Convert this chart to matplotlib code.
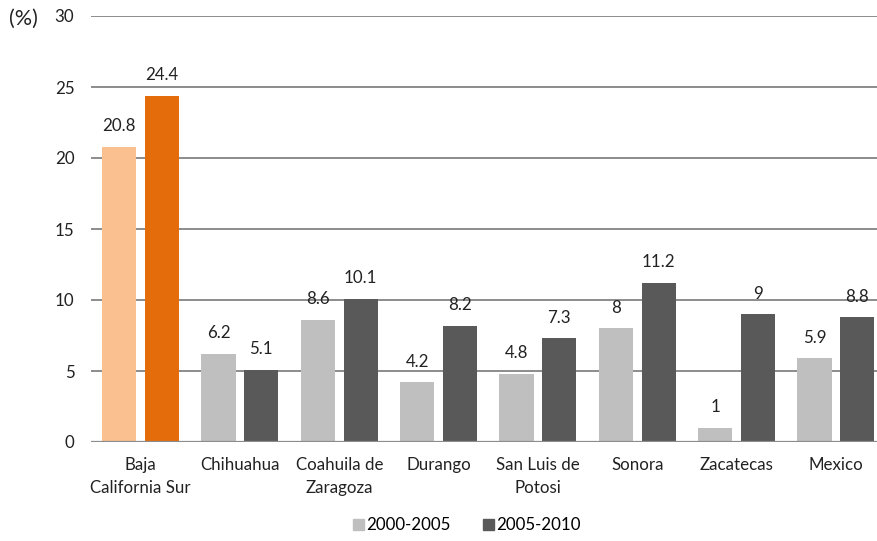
import matplotlib
matplotlib.use("Agg")
import matplotlib.pyplot as plt
from matplotlib.patches import Patch
import numpy as np

plt.rcParams['font.family'] = ['Lato', 'DejaVu Sans']

categories = ["Baja\nCalifornia Sur", "Chihuahua", "Coahuila de\nZaragoza", "Durango",
              "San Luis de\nPotosi", "Sonora", "Zacatecas", "Mexico"]
series_names = ["2000-2005", "2005-2010"]
values_2000_2005 = [20.8, 6.2, 8.6, 4.2, 4.8, 8, 1, 5.9]
values_2005_2010 = [24.4, 5.1, 10.1, 8.2, 7.3, 11.2, 9, 8.8]
labels_2000_2005 = ["20.8", "6.2", "8.6", "4.2", "4.8", "8", "1", "5.9"]
labels_2005_2010 = ["24.4", "5.1", "10.1", "8.2", "7.3", "11.2", "9", "8.8"]
yticks = [0, 5, 10, 15, 20, 25, 30]

light_grey = "#BFBFBF"
dark_grey = "#595959"
light_orange = "#FAC090"
orange = "#E46C0A"

FS = 12.2
W, H = 878, 541
fig = plt.figure(figsize=(W / 100, H / 100), dpi=100)
ax = fig.add_axes([91 / W, (H - 442) / H, 794.6 / W, 426 / H])

x = np.arange(len(categories))
bw = 0.345
off = 0.215
c1 = [light_orange] + [light_grey] * (len(categories) - 1)
c2 = [orange] + [dark_grey] * (len(categories) - 1)
b1 = ax.bar(x - off, values_2000_2005, bw, color=c1, zorder=2)
b2 = ax.bar(x + off, values_2005_2010, bw, color=c2, zorder=2)

for bars, labs in ((b1, labels_2000_2005), (b2, labels_2005_2010)):
    for r, lab in zip(bars, labs):
        ax.annotate(lab, (r.get_x() + r.get_width() / 2, r.get_height()),
                    xytext=(0, 9.0), textcoords="offset points",
                    ha="center", va="bottom", fontsize=FS, color="#222222")

ax.set_xlim(-0.5, len(categories) - 0.5)
ax.set_ylim(0, 30)
ax.set_yticks(yticks)
ax.set_yticklabels([str(t) for t in yticks], fontsize=FS, color="#222222")
ax.set_xticks(x)
ax.set_xticklabels(categories, fontsize=FS, color="#222222", linespacing=1.5)
ax.tick_params(axis="both", length=0)
ax.tick_params(axis="y", pad=12)
ax.tick_params(axis="x", pad=11)
for s in ax.spines.values():
    s.set_visible(False)
ax.yaxis.grid(True, color="#8C8C8C", linewidth=1.4, zorder=0)
ax.set_axisbelow(True)
ax.axhline(0, color="#8C8C8C", linewidth=1.6, zorder=3)

fig.text(9 / W, 1 - 19 / H, "(%)", fontsize=15.5, va="center", ha="left", color="#222222")

handles = [Patch(color=light_grey), Patch(color=dark_grey)]
fig.legend(handles, series_names, loc="center", bbox_to_anchor=(467 / W, 1 - 525 / H),
           ncol=2, frameon=False, fontsize=FS, handlelength=0.62, handleheight=0.62,
           handletextpad=0.15, columnspacing=1.9)

fig.savefig("out.png", dpi=100)
